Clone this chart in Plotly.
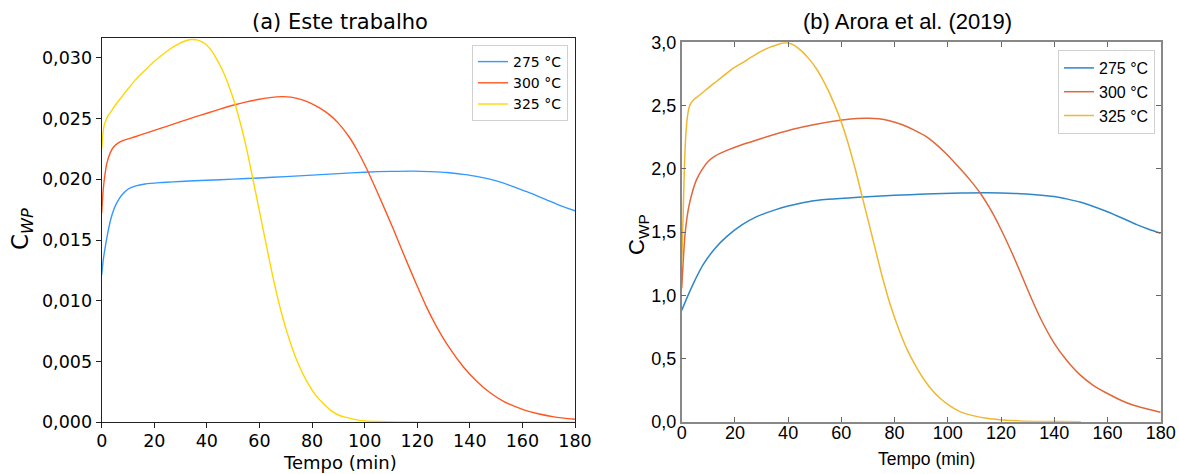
import plotly.graph_objects as go

# ---------------- data: (a) Este trabalho ----------------
a_t_275 = [0, 0.5, 1.25, 2.5, 3.5, 4.5, 5.5, 6.5, 8, 10.1, 13, 16.5, 22, 30, 40, 50, 60, 70, 80, 90, 100, 110, 118.5, 125, 131.2, 137.5, 143, 147.6, 152, 156.5, 161, 165.4, 169, 173, 176.5, 180]
a_v_275 = [0.0121, 0.0132, 0.0143, 0.0158, 0.01675, 0.01745, 0.01795, 0.01835, 0.01878, 0.0192, 0.01946, 0.01961, 0.01972, 0.01982, 0.01992, 0.02001, 0.02011, 0.02022, 0.02034, 0.02046, 0.02058, 0.02065, 0.02067, 0.02063, 0.02056, 0.0204, 0.02022, 0.02001, 0.01974, 0.01940, 0.01903, 0.01866, 0.01833, 0.01795, 0.01767, 0.01740]

a_t_300 = [0, 0.6, 1.25, 2, 3.2, 4.5, 6.3, 8, 10, 13, 16.5, 20, 25, 30, 35.5, 40, 45, 50.7, 55, 60, 64, 68.4, 72, 76, 79.8, 83, 86.8, 90, 94, 97, 100.6, 105, 110.9, 115, 119.8, 123.5, 127.4, 132, 137.5, 142.5, 147.6, 153, 160.3, 166, 172, 180]
a_v_300 = [0.0172, 0.0192, 0.0204, 0.02135, 0.02215, 0.02265, 0.0230, 0.02318, 0.02332, 0.02352, 0.02377, 0.02402, 0.02438, 0.02474, 0.02513, 0.02543, 0.02577, 0.02613, 0.02637, 0.02658, 0.02672, 0.02680, 0.02676, 0.02655, 0.02623, 0.02585, 0.02528, 0.02462, 0.02352, 0.02245, 0.02095, 0.01885, 0.0159, 0.01375, 0.0113, 0.0095, 0.00786, 0.0062, 0.00457, 0.0034, 0.00245, 0.0017, 0.00105, 0.0007, 0.00045, 0.00025]

a_t_325 = [0, 0.5, 1.0, 1.7, 2.5, 3.5, 5, 7.5, 10.1, 13, 16.5, 19.5, 22.8, 26, 29.1, 32, 34.2, 36.5, 39.3, 42, 44.3, 46.5, 48.5, 50.7, 53, 55, 57, 59.5, 61.8, 64, 66, 68, 70, 72, 74, 76.5, 79, 81.5, 84, 87, 90, 93, 96.5, 100, 105, 112, 125, 180]
a_v_325 = [0.0225, 0.0238, 0.0245, 0.0249, 0.02525, 0.02555, 0.02605, 0.02675, 0.02747, 0.02822, 0.02897, 0.0296, 0.0302, 0.03072, 0.03113, 0.0314, 0.0315, 0.03145, 0.03115, 0.0305, 0.02966, 0.0287, 0.0276, 0.0262, 0.0244, 0.0226, 0.02055, 0.0179, 0.01545, 0.0131, 0.0111, 0.0093, 0.00775, 0.0064, 0.0052, 0.0040, 0.0030, 0.0022, 0.0016, 0.0010, 0.0006, 0.0004, 0.00022, 0.00012, 0.00006, 0.00002, 0.0, 0.0]

# ---------------- data: (b) Arora et al. (2019) ----------------
b_t_275 = [0, 2.5, 5, 8, 12.5, 17, 22.6, 28, 35.1, 40, 47.6, 55, 66.4, 80, 91.5, 105, 114.7, 125, 133, 140, 145, 150, 155, 160, 165, 171, 175.5, 180]
b_v_275 = [0.88, 1.005, 1.12, 1.24, 1.37, 1.465, 1.556, 1.62, 1.675, 1.705, 1.74, 1.758, 1.775, 1.79, 1.80, 1.808, 1.81, 1.805, 1.795, 1.78, 1.76, 1.735, 1.70, 1.66, 1.615, 1.558, 1.522, 1.49]

b_t_300 = [0, 0.6, 1.25, 2.5, 3.8, 5.5, 7.5, 10, 12.5, 17, 22.6, 30, 41.4, 50, 60.2, 66, 70.2, 74, 78, 82.7, 87, 91.5, 95.5, 99.6, 104, 108, 112.1, 116, 120, 124, 127.5, 130.9, 135, 139.7, 144.5, 149.7, 154.5, 159.8, 165, 169.8, 175, 180]
b_v_300 = [1.055, 1.28, 1.48, 1.68, 1.80, 1.91, 1.99, 2.06, 2.10, 2.145, 2.19, 2.24, 2.31, 2.35, 2.385, 2.398, 2.40, 2.395, 2.38, 2.35, 2.31, 2.26, 2.195, 2.115, 2.015, 1.92, 1.81, 1.68, 1.52, 1.34, 1.17, 1.0, 0.81, 0.63, 0.49, 0.37, 0.29, 0.225, 0.17, 0.13, 0.10, 0.074]

b_t_325 = [0, 0.5, 1.0, 1.5, 2.2, 3.1, 4.5, 6, 8, 10, 13, 16, 19, 22.6, 26, 30, 33, 35.1, 38, 40, 42, 45.1, 48, 50.5, 52.6, 55.5, 58.9, 62, 65.2, 67.7, 70.2, 72.7, 75.2, 78.3, 81.4, 84.5, 87.7, 91.5, 94.3, 97.1, 100.8, 104.6, 109.5, 114.7, 120.5, 127.2, 135, 142, 150]
b_v_325 = [1.24, 1.6, 2.0, 2.25, 2.42, 2.505, 2.545, 2.57, 2.605, 2.64, 2.69, 2.74, 2.79, 2.835, 2.88, 2.93, 2.96, 2.975, 2.995, 2.995, 2.98, 2.93, 2.865, 2.795, 2.72, 2.60, 2.43, 2.24, 2.0, 1.79, 1.58, 1.37, 1.16, 0.93, 0.74, 0.58, 0.45, 0.32, 0.245, 0.185, 0.125, 0.08, 0.048, 0.027, 0.014, 0.006, 0.002, 0.0008, 0.0]

labels = ["275 °C", "300 °C", "325 °C"]
x_ticks = [0, 20, 40, 60, 80, 100, 120, 140, 160, 180]
a_y_ticks = [0, 0.005, 0.010, 0.015, 0.020, 0.025, 0.030]
b_y_ticks = [0, 0.5, 1.0, 1.5, 2.0, 2.5, 3.0]

a_colors = ["#3399ff", "#ff5722", "#ffd700"]
b_colors = ["#2f86c8", "#e0683a", "#f0b830"]

fig = go.Figure()
for t, v, lab, c in zip([a_t_275, a_t_300, a_t_325], [a_v_275, a_v_300, a_v_325], labels, a_colors):
    fig.add_trace(go.Scatter(x=t, y=v, mode="lines", name=lab, xaxis="x", yaxis="y",
                             line=dict(color=c, width=1.4, shape="spline", smoothing=0.8),
                             legend="legend"))
for t, v, lab, c in zip([b_t_275, b_t_300, b_t_325], [b_v_275, b_v_300, b_v_325], labels, b_colors):
    fig.add_trace(go.Scatter(x=t, y=v, mode="lines", name=lab, xaxis="x2", yaxis="y2",
                             line=dict(color=c, width=1.5, shape="spline", smoothing=0.8),
                             legend="legend2"))

W, H = 1179, 474
fa = "DejaVu Sans"
fb = "Liberation Sans"

common_a = dict(showline=True, linecolor="#222", linewidth=1.2, mirror=True,
                ticks="outside", ticklen=5, tickwidth=1.2, tickcolor="#222",
                showgrid=False, zeroline=False, automargin=False,
                tickfont=dict(family=fa, size=17.5, color="black"))
common_b = dict(showline=True, linecolor="#888", linewidth=1.5, mirror="ticks",
                ticks="inside", ticklen=5, tickwidth=1, tickcolor="#666",
                showgrid=False, zeroline=False, automargin=False,
                tickfont=dict(family=fb, size=18, color="black"))

fig.update_layout(
    width=W, height=H,
    margin=dict(l=0, r=0, t=0, b=0),
    paper_bgcolor="white", plot_bgcolor="white",
    separators=",.",
    xaxis=dict(domain=[101.7 / W, 575 / W], range=[0, 180], tickvals=x_ticks, anchor="y",
               ticklabelstandoff=-2, **common_a),
    yaxis=dict(domain=[1 - 422.3 / H, 1 - 38.3 / H], range=[0, 0.0316], tickvals=a_y_ticks,
               tickformat=".3f", anchor="x", **common_a),
    xaxis2=dict(domain=[681.7 / W, 1160.7 / W], range=[0, 180], tickvals=x_ticks, anchor="y2",
                ticklabelstandoff=-6, **common_b),
    yaxis2=dict(domain=[1 - 421.7 / H, 1 - 42.3 / H], range=[0, 3.0], tickvals=b_y_ticks,
                tickformat=".1f", anchor="x2", **common_b),
    legend=dict(x=568 / W, y=1 - 45 / H, xanchor="right", yanchor="top",
                bgcolor="rgba(255,255,255,0.9)", bordercolor="#d0d0d0", borderwidth=1,
                font=dict(family=fa, size=14, color="black"), tracegroupgap=0,
                itemwidth=30),
    legend2=dict(x=1155 / W, y=1 - 50 / H, xanchor="right", yanchor="top",
                 bgcolor="rgba(255,255,255,0.9)", bordercolor="#d0d0d0", borderwidth=1,
                 font=dict(family=fb, size=16, color="black"), tracegroupgap=0,
                 itemwidth=30),
    annotations=[
        dict(text="(a) Este trabalho", x=340 / W, y=1 - 22 / H, xref="paper", yref="paper",
             xanchor="center", yanchor="middle", showarrow=False,
             font=dict(family=fa, size=21, color="black")),
        dict(text="(b) Arora et al. (2019)", x=907 / W, y=1 - 22 / H, xref="paper", yref="paper",
             xanchor="center", yanchor="middle", showarrow=False,
             font=dict(family=fb, size=22, color="black")),
        dict(text="Tempo (min)", x=340 / W, y=0, xref="paper", yref="paper",
             xanchor="center", yanchor="bottom", showarrow=False, borderpad=0,
             font=dict(family=fa, size=18, color="black")),
        dict(text="C<sub><i>WP</i></sub>", x=22 / W, y=1 - 229 / H, xref="paper", yref="paper",
             xanchor="center", yanchor="middle", showarrow=False, textangle=-90,
             font=dict(family=fa, size=23, color="black")),
        dict(text="Tempo (min)", x=926 / W, y=1 - 459 / H, xref="paper", yref="paper",
             xanchor="center", yanchor="middle", showarrow=False,
             font=dict(family=fb, size=17.5, color="black")),
        dict(text="C<sub>WP</sub>", x=638 / W, y=1 - 234 / H, xref="paper", yref="paper",
             xanchor="center", yanchor="middle", showarrow=False, textangle=-90,
             font=dict(family=fb, size=22, color="black")),
    ],
)

fig.write_html("out.html")
